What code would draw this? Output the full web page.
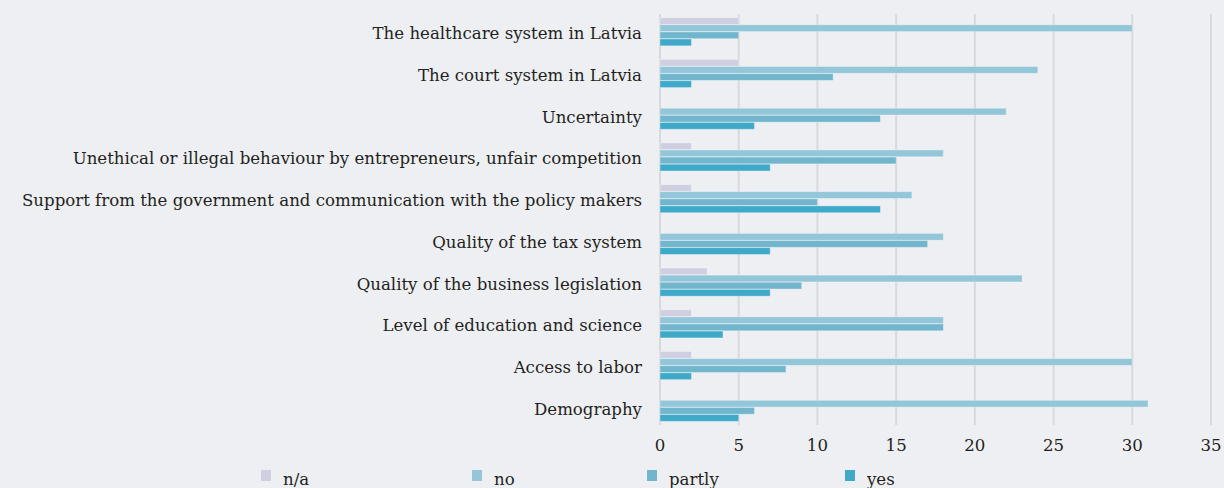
<!DOCTYPE html>
<html lang="en">
  <head>
    <meta charset="UTF-8" />
    <title>Business environment factors</title>
    <script src="https://d3js.org/d3.v7.min.js"></script>
    <style>
      body {
        margin: 0;
        background: #eeeff3;
      }
      svg {
        display: block;
        font-family: "DejaVu Serif", "Liberation Serif", serif;
      }
      .grid line {
        stroke: #d9d9d9;
        stroke-width: 2;
      }
    </style>
  </head>
  <body>
    <script>
      // Data
      const categories = [
        "The healthcare system in Latvia",
        "The court system in Latvia",
        "Uncertainty",
        "Unethical or illegal behaviour by entrepreneurs, unfair competition",
        "Support from the government and communication with the policy makers",
        "Quality of the tax system",
        "Quality of the business legislation",
        "Level of education and science",
        "Access to labor",
        "Demography",
      ];
      const seriesNames = ["n/a", "no", "partly", "yes"];
      const naValues = [5, 5, 0, 2, 2, 0, 3, 2, 2, 0];
      const noValues = [30, 24, 22, 18, 16, 18, 23, 18, 30, 31];
      const partlyValues = [5, 11, 14, 15, 10, 17, 9, 18, 8, 6];
      const yesValues = [2, 2, 6, 7, 14, 7, 7, 4, 2, 5];
      const colors = ["#d0cfe1", "#94c6d9", "#72b6ce", "#3ea9c8"];
      const xTicks = [0, 5, 10, 15, 20, 25, 30, 35];

      const seriesValues = [naValues, noValues, partlyValues, yesValues];

      const width = 1224,
        height = 488;
      const margin = { top: 14, right: 13, bottom: 63, left: 660 };
      const fontSize = 16.6;

      const svg = d3
        .select("body")
        .append("svg")
        .attr("width", width)
        .attr("height", height);

      const x = d3
        .scaleLinear()
        .domain([0, 35])
        .range([margin.left, width - margin.right]);

      const y = d3
        .scaleBand()
        .domain(categories)
        .range([margin.top, height - margin.bottom])
        .paddingInner(0.31)
        .paddingOuter(0.08);

      const ySub = d3
        .scaleBand()
        .domain(seriesNames)
        .range([0, y.bandwidth()])
        .padding(0.04);

      // vertical grid lines
      svg
        .append("g")
        .attr("class", "grid")
        .selectAll("line")
        .data(xTicks)
        .join("line")
        .attr("x1", (d) => x(d))
        .attr("x2", (d) => x(d))
        .attr("y1", margin.top)
        .attr("y2", height - margin.bottom);

      // bars
      const groups = svg
        .append("g")
        .selectAll("g")
        .data(categories)
        .join("g")
        .attr("transform", (d) => `translate(0,${y(d)})`);

      groups
        .selectAll("rect")
        .data((d, i) =>
          seriesNames.map((s, j) => ({ s, j, v: seriesValues[j][i] }))
        )
        .join("rect")
        .attr("x", x(0))
        .attr("y", (d) => ySub(d.s))
        .attr("width", (d) => x(d.v) - x(0))
        .attr("height", ySub.bandwidth())
        .attr("fill", (d) => colors[d.j])
        .attr("stroke", "rgba(255,255,255,0.35)")
        .attr("stroke-width", 1);

      // category labels
      svg
        .append("g")
        .selectAll("text")
        .data(categories)
        .join("text")
        .attr("x", 642)
        .attr("y", (d) => y(d) + y.bandwidth() / 2)
        .attr("dy", "0.45em")
        .attr("text-anchor", "end")
        .attr("font-size", fontSize)
        .attr("fill", "#231f20")
        .text((d) => d);

      // x axis labels
      svg
        .append("g")
        .selectAll("text")
        .data(xTicks)
        .join("text")
        .attr("x", (d) => x(d))
        .attr("y", 451)
        .attr("text-anchor", "middle")
        .attr("font-size", fontSize)
        .attr("fill", "#231f20")
        .text((d) => d);

      // legend
      const legendX = [261, 472, 647, 845];
      const legend = svg
        .append("g")
        .selectAll("g")
        .data(seriesNames)
        .join("g")
        .attr("transform", (d, i) => `translate(${legendX[i]},470)`);

      legend
        .append("rect")
        .attr("width", 10)
        .attr("height", 11)
        .attr("fill", (d, i) => colors[i]);

      legend
        .append("text")
        .attr("x", 22)
        .attr("y", 15)
        .attr("font-size", fontSize)
        .attr("fill", "#231f20")
        .text((d) => d);
    </script>
  </body>
</html>
